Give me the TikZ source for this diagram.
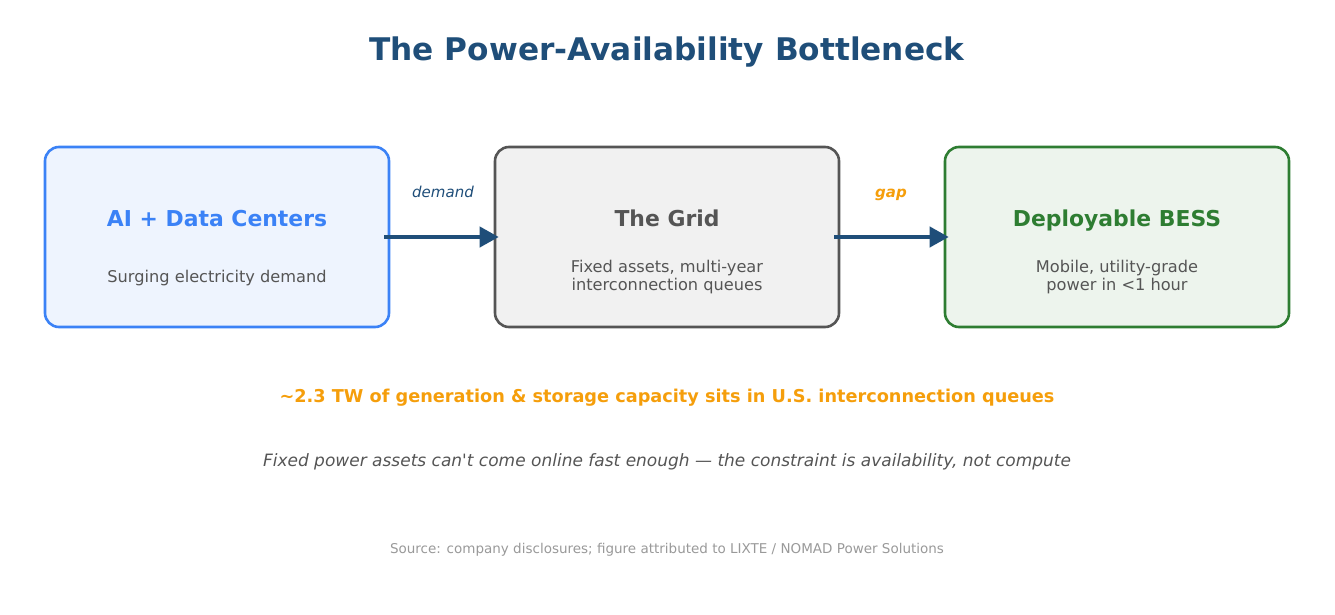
\documentclass[tikz,border=0pt]{standalone}
\usepackage{fontspec}
\setmainfont{DejaVu Sans}
\usetikzlibrary{arrows.meta}
\definecolor{titleblue}{RGB}{31,78,121}
\definecolor{aiblue}{RGB}{59,130,246}
\definecolor{aifill}{RGB}{238,244,254}
\definecolor{gridgray}{RGB}{85,85,85}
\definecolor{gridfill}{RGB}{241,241,241}
\definecolor{bessgreen}{RGB}{46,125,50}
\definecolor{bessfill}{RGB}{237,244,237}
\definecolor{amber}{RGB}{245,158,11}
\definecolor{txtgray}{RGB}{85,85,85}
\definecolor{srcgray}{RGB}{153,153,153}
\tikzset{
  panel/.style={draw, rounded corners=14pt, line width=2.6pt, minimum width=344pt, minimum height=180pt},
  paneltitle/.style={font=\fontsize{21.9}{26}\selectfont\bfseries, anchor=center, text height=16pt, text depth=5pt},
  panelsub/.style={font=\fontsize{16.2}{18}\selectfont, text=txtgray, align=center, anchor=center},
  flow/.style={draw=titleblue, line width=4pt, -{Triangle[length=19pt,width=20pt]}},
}
\begin{document}
\begin{tikzpicture}[x=1pt,y=-1pt]
\useasboundingbox (0,0) rectangle (1335,615);
\node[font=\fontsize{31.2}{36}\selectfont\bfseries, text=titleblue] (title) at (667,52) {The Power-Availability Bottleneck};

\node[panel, draw=aiblue, fill=aifill] (b1) at (217,237) {};
\node[panel, draw=gridgray, fill=gridfill] (b2) at (667,237) {};
\node[panel, draw=bessgreen, fill=bessfill] (b3) at (1117,237) {};

\node[paneltitle, text=aiblue] (t1) at (217,220.5) {AI + Data Centers};
\node[paneltitle, text=gridgray] (t2) at (667,220.5) {The Grid};
\node[paneltitle, text=bessgreen] (t3) at (1117,220.5) {Deployable BESS};

\node[panelsub] (s1) at (217,278) {Surging electricity demand};
\node[panelsub] (s2) at (667,277) {Fixed assets, multi-year\\interconnection queues};
\node[panelsub] (s3) at (1117,277) {Mobile, utility-grade\\power in <1 hour};

\draw[flow] ([xshift=-6pt]b1.east) -- ([xshift=5pt]b2.west);
\draw[flow] ([xshift=-6pt]b2.east) -- ([xshift=5pt]b3.west);

\node[font=\fontsize{15}{18}\selectfont\itshape, text=titleblue] (l1) at (443,192) {demand};
\node[font=\fontsize{15}{18}\selectfont\bfseries\itshape, text=amber] (l2) at (891,195) {gap};

\node[font=\fontsize{17.7}{20}\selectfont\bfseries, text=amber] (stat) at (667,398) {\textasciitilde 2.3 TW of generation \& storage capacity sits in U.S. interconnection queues};
\node[font=\fontsize{17}{20}\selectfont\itshape, text=txtgray] (note) at (667,462) {Fixed power assets can\textquotesingle t come online fast enough — the constraint is availability, not compute};
\node[font=\fontsize{13.5}{16}\selectfont, text=srcgray] (src) at (667,550) {Source: company disclosures; figure attributed to LIXTE / NOMAD Power Solutions};
\end{tikzpicture}
\end{document}
